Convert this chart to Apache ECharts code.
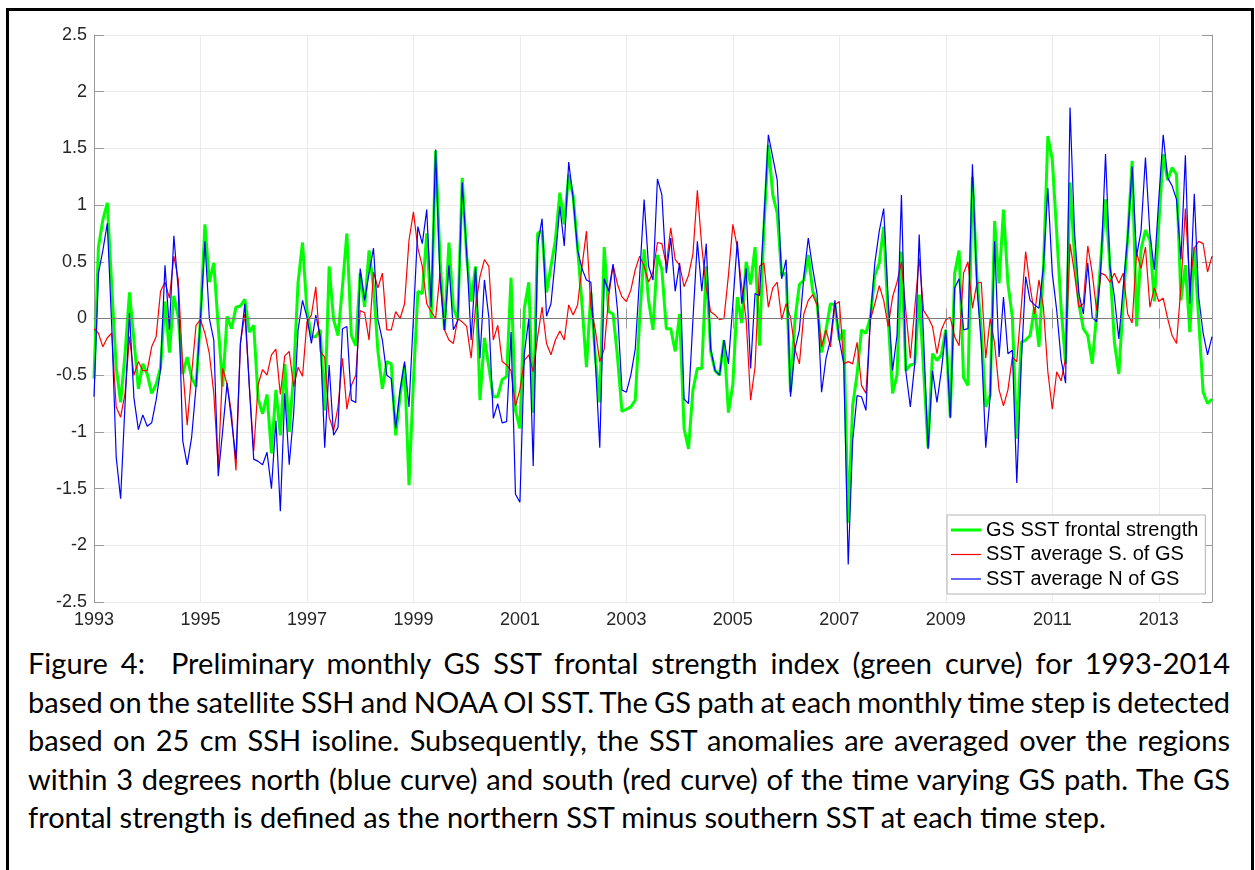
<!DOCTYPE html>
<html>
<head>
<meta charset="utf-8">
<script src="https://cdn.jsdelivr.net/npm/echarts@6/dist/echarts.min.js"></script>
<style>
html,body{margin:0;padding:0;width:1255px;height:870px;overflow:hidden;background:#fff;}
#frame{position:absolute;left:6px;top:8px;width:1242px;height:900px;border:3px solid #000;}
#chart{position:absolute;left:0;top:0;width:1255px;height:640px;}
#caption{position:absolute;left:28px;top:644px;width:1202px;font-family:Lato,"Open Sans",sans-serif;font-size:29px;line-height:38.5px;color:#000;}
#caption div{text-align:justify;text-align-last:justify;}
#caption div.tight{word-spacing:-2.5px;}
#caption div.last{text-align-last:left;}
</style>
</head>
<body>
<div id="frame"></div>
<div id="chart"></div>
<div id="caption">
<div>Figure 4:&nbsp; Preliminary monthly GS SST frontal strength index (green curve) for 1993-2014</div>
<div class="tight">based on the satellite SSH and NOAA OI SST. The GS path at each monthly time step is detected</div>
<div>based on 25 cm SSH isoline. Subsequently, the SST anomalies are averaged over the regions</div>
<div>within 3 degrees north (blue curve) and south (red curve) of the time varying GS path. The GS</div>
<div class="last">frontal strength is defined as the northern SST minus southern SST at each time step.</div>
</div>
<script>
// ---- data (monthly, Jan 1993 .. Jan 2014) ----
const startYear = 1993;
const endYear = 2014;
const yearTickLabels = ['1993','1995','1997','1999','2001','2003','2005','2007','2009','2011','2013'];
const yTickMin = -2.5, yTickMax = 2.5, yTickStep = 0.5;
const seriesNames = ['GS SST frontal strength', 'SST average S. of GS', 'SST average N of GS'];

const gsFrontal = [
-0.53,0.63,0.87,1.02,0.28,-0.43,-0.74,-0.31,0.23,-0.19,-0.62,-0.40,
-0.49,-0.66,-0.58,-0.43,0.15,-0.30,0.20,0.01,-0.49,-0.34,-0.52,-0.60,
0.00,0.83,0.32,0.49,-0.07,-0.60,0.02,-0.09,0.10,0.11,0.17,-0.12,
-0.06,-0.71,-0.84,-0.67,-1.19,-0.63,-1.03,-0.40,-1.00,-0.49,0.32,0.67,
0.07,-0.16,-0.16,-0.10,-0.81,0.46,-0.01,-0.15,0.28,0.75,-0.15,-0.24,
0.40,0.10,0.60,0.28,-0.29,-0.62,-0.38,-0.40,-1.03,-0.68,-0.41,-1.47,
-0.55,0.24,0.22,0.75,0.00,1.48,0.52,-0.10,0.67,0.09,-0.01,1.24,
0.55,0.15,0.46,-0.72,-0.17,-0.43,-0.69,-0.69,-0.54,-0.51,0.36,-0.81,
-0.97,0.09,0.32,-0.83,0.75,0.77,0.23,0.46,0.69,1.11,0.83,1.27,
1.08,0.63,0.12,-0.43,0.23,-0.34,-0.74,0.63,0.06,0.04,-0.34,-0.82,
-0.80,-0.78,-0.72,0.00,0.61,0.16,-0.10,0.56,0.43,-0.09,-0.09,-0.29,
0.04,-0.97,-1.15,-0.63,-0.44,-0.44,0.46,-0.29,-0.46,-0.50,-0.19,-0.83,
-0.58,0.19,-0.04,0.50,0.30,0.63,-0.24,0.80,1.53,1.09,0.93,0.38,
0.40,-0.65,-0.01,0.30,0.34,0.56,0.24,0.13,-0.30,-0.10,0.13,0.12,
-0.19,-0.10,-1.80,-0.77,-0.49,-0.10,-0.13,0.01,0.38,0.49,0.81,0.01,
-0.66,-0.50,0.59,-0.46,-0.41,-0.40,0.21,-0.46,-1.14,-0.31,-0.37,-0.32,
-0.10,-0.87,0.40,0.60,-0.52,-0.59,1.25,0.37,-0.10,-0.78,-0.68,0.86,
0.31,0.96,0.31,0.01,-1.06,-0.21,-0.19,-0.15,0.10,-0.25,0.43,1.61,
1.40,0.75,0.09,-0.40,1.20,0.55,0.13,-0.09,-0.15,-0.40,0.04,0.55,
1.05,0.46,-0.21,-0.49,0.16,0.71,1.39,-0.07,0.61,0.78,0.69,0.15,
0.83,1.45,1.22,1.33,1.27,0.16,0.47,-0.12,0.63,-0.01,-0.65,-0.75,
-0.71
];

const sstSouth = [
-0.09,-0.13,-0.25,-0.17,-0.13,-0.78,-0.87,-0.66,-0.16,-0.50,-0.38,-0.46,
-0.46,-0.25,-0.16,0.24,0.32,0.18,0.55,0.34,-0.43,-0.94,-0.49,-0.06,
-0.01,-0.13,-0.31,-0.66,-1.31,-0.44,-0.58,-0.84,-1.34,-0.22,0.04,-0.58,
-1.17,-0.58,-0.45,-0.50,-0.32,-0.27,-0.67,-0.33,-0.29,-0.60,-0.43,-0.51,
-0.03,0.03,0.28,-0.29,-0.34,-0.87,-0.99,-0.78,-0.35,-0.80,-0.59,-0.50,
0.07,0.05,-0.19,0.41,0.27,0.40,-0.10,-0.10,0.06,0.00,0.13,0.69,
0.94,0.62,0.46,0.13,0.06,0.00,0.40,-0.10,-0.19,-0.22,0.00,-0.03,
-0.07,-0.35,0.10,0.37,0.52,0.46,-0.19,-0.06,-0.38,-0.41,-0.46,-0.77,
-0.63,-0.37,-0.32,-0.47,-0.16,0.10,-0.22,-0.32,-0.19,-0.11,-0.19,0.12,
0.03,0.12,0.46,0.77,0.10,-0.10,-0.38,-0.27,0.19,0.47,0.30,0.19,
0.15,0.25,0.43,0.55,0.46,0.32,0.41,0.67,0.66,0.47,0.80,0.52,
0.47,0.28,0.38,0.57,1.13,0.63,0.27,0.06,0.03,-0.01,0.00,0.38,
0.83,0.63,0.28,-0.01,-0.72,-0.43,0.46,0.49,0.10,0.27,0.32,-0.01,
0.13,0.01,-0.27,-0.40,0.04,0.16,0.21,0.12,-0.25,-0.10,-0.25,0.12,
0.15,-0.40,-0.38,-0.40,-0.21,-0.59,-0.66,-0.01,0.13,0.29,0.16,-0.07,
0.19,0.32,0.50,0.06,-0.35,0.09,0.53,0.07,0.01,-0.07,-0.31,-0.10,
-0.01,0.01,-0.16,-0.24,0.40,0.50,0.09,0.31,0.32,-0.35,0.00,-0.22,
-0.63,-0.77,-0.63,-0.34,-0.38,0.10,0.59,0.28,0.04,0.34,0.10,-0.47,
-0.80,-0.47,-0.55,-0.35,0.66,0.40,0.10,0.13,0.64,0.40,0.07,0.40,
0.38,0.32,0.40,0.31,0.40,0.04,-0.04,0.58,0.44,0.63,0.10,0.27,
0.15,0.18,0.00,-0.15,-0.22,0.28,0.97,0.28,0.62,0.68,0.66,0.41,
0.55
];

const sstNorth = [
-0.69,0.40,0.60,0.84,-0.07,-1.22,-1.59,-0.75,0.05,-0.70,-0.98,-0.85,
-0.95,-0.92,-0.72,-0.45,0.47,-0.10,0.73,0.25,-1.08,-1.29,-1.05,-0.60,
0.00,0.68,0.00,-0.19,-1.39,-0.99,-0.57,-0.90,-1.24,-0.22,0.13,-0.60,
-1.24,-1.26,-1.29,-1.18,-1.50,-0.90,-1.70,-0.66,-1.29,-0.84,-0.10,0.16,
0.01,-0.22,0.03,-0.16,-1.14,-0.41,-1.03,-0.96,-0.09,-0.07,-0.72,-0.74,
0.44,0.16,0.40,0.62,-0.01,-0.19,-0.50,-0.53,-0.97,-0.63,-0.38,-0.78,
0.01,0.81,0.66,0.96,0.10,1.49,0.34,-0.10,0.47,-0.10,-0.02,1.20,
0.58,-0.19,0.45,-0.35,0.34,0.01,-0.88,-0.75,-0.92,-0.91,-0.12,-1.55,
-1.62,-0.31,0.00,-1.30,0.65,0.88,0.02,0.13,0.53,0.99,0.64,1.38,
1.06,0.60,0.44,0.34,0.32,-0.37,-1.14,0.35,0.24,0.48,0.07,-0.63,
-0.65,-0.50,-0.27,0.38,1.05,0.46,0.34,1.23,1.09,0.40,0.71,0.24,
0.49,-0.71,-0.75,-0.01,0.68,0.24,0.66,-0.27,-0.46,-0.50,-0.19,-0.40,
0.13,0.68,0.13,0.44,-0.44,0.22,0.20,0.86,1.62,1.42,1.22,0.35,
0.52,-0.69,-0.27,-0.10,0.37,0.71,0.44,0.21,-0.65,-0.35,-0.19,0.16,
-0.19,-0.40,-2.17,-1.08,-0.68,-0.69,-0.81,0.01,0.49,0.77,0.97,0.16,
-0.46,-0.15,1.09,-0.47,-0.78,-0.40,0.74,-0.19,-1.15,-0.46,-0.74,-0.46,
-0.10,-0.88,0.27,0.35,-0.10,-0.09,1.36,0.29,-0.22,-1.14,-0.68,0.68,
-0.34,0.19,-0.31,-0.28,-1.45,-0.40,0.37,0.16,0.12,0.09,0.46,1.15,
0.40,0.07,-0.37,-0.57,1.86,0.77,0.22,0.04,0.49,0.01,-0.03,0.49,
1.45,0.46,0.19,-0.18,0.28,0.72,1.34,0.55,0.77,1.42,0.75,0.43,
1.05,1.62,1.24,1.17,1.05,0.52,1.44,0.13,1.10,0.19,-0.13,-0.32,
-0.16
];

// month categories
const months = [];
for (let y = startYear; y <= endYear; y++) {
  for (let m = 1; m <= 12; m++) {
    if (y === endYear && m > 1) break;
    months.push(y + '-' + String(m).padStart(2, '0'));
  }
}
const isYearTick = (idx) => {
  const v = months[idx];
  return !!v && v.endsWith('-01') && yearTickLabels.includes(v.slice(0, 4));
};

const colors = ['#00ff00', '#ff0000', '#0000ff'];
const widths = [3, 1.2, 1.2];
const axisColor = '#9a9a9a';
const gridColor = '#ebebeb';
const labelFont = { fontFamily: 'Liberation Sans, Arial, sans-serif', fontSize: 18, color: '#262626' };

const chart = echarts.init(document.getElementById('chart'), null, { renderer: 'canvas' });
chart.setOption({
  animation: false,
  backgroundColor: 'transparent',
  grid: { left: 94, top: 35, right: 43, bottom: 38, show: false },
  xAxis: [{
    type: 'category', data: months, boundaryGap: false, position: 'bottom',
    axisLine: { show: true, lineStyle: { color: axisColor, width: 1 } },
    axisTick: { show: true, inside: true, length: 10, interval: (i) => isYearTick(i), lineStyle: { color: axisColor } },
    axisLabel: { show: true, interval: (i) => isYearTick(i), formatter: (v) => v.slice(0, 4), margin: 9, ...labelFont },
    splitLine: { show: true, interval: (i) => isYearTick(i), lineStyle: { color: gridColor, width: 1 } }
  }, {
    type: 'category', data: months, boundaryGap: false, position: 'top',
    axisLine: { show: true, lineStyle: { color: axisColor, width: 1 } },
    axisTick: { show: true, inside: true, length: 10, interval: (i) => isYearTick(i), lineStyle: { color: axisColor } },
    axisLabel: { show: false },
    splitLine: { show: false }
  }],
  yAxis: [{
    type: 'value', min: yTickMin, max: yTickMax, interval: yTickStep, position: 'left',
    axisLine: { show: true, lineStyle: { color: axisColor, width: 1 } },
    axisTick: { show: true, inside: true, length: 10, lineStyle: { color: axisColor } },
    axisLabel: { show: true, margin: 7, ...labelFont },
    splitLine: { show: true, lineStyle: { color: gridColor, width: 1 } }
  }, {
    type: 'value', min: yTickMin, max: yTickMax, interval: yTickStep, position: 'right',
    axisLine: { show: true, lineStyle: { color: axisColor, width: 1 } },
    axisTick: { show: true, inside: true, length: 10, lineStyle: { color: axisColor } },
    axisLabel: { show: false },
    splitLine: { show: false }
  }],
  legend: {
    orient: 'vertical', left: 947, top: 515,
    itemWidth: 30, itemHeight: 14, itemGap: 4.5,
    padding: [5, 7, 5, 4],
    symbolKeepAspect: true,
    backgroundColor: '#ffffff', borderColor: '#b4b4b4', borderWidth: 1,
    itemStyle: { borderWidth: 0 },
    textStyle: { fontFamily: 'Liberation Sans, Arial, sans-serif', fontSize: 20, color: '#000' },
    data: seriesNames.map((n, k) => ({
      name: n,
      icon: k === 0 ? 'path://M0,0H30V3H0Z' : 'path://M0,0H30V1.2H0Z',
      itemStyle: { color: colors[k], borderWidth: 0 }
    }))
  },
  series: [{
    name: seriesNames[0], type: 'line', data: gsFrontal, symbol: 'none', showSymbol: false,
    lineStyle: { color: colors[0], width: widths[0] }, itemStyle: { color: colors[0] }, z: 2
  }, {
    name: seriesNames[1], type: 'line', data: sstSouth, symbol: 'none', showSymbol: false,
    lineStyle: { color: colors[1], width: widths[1] }, itemStyle: { color: colors[1] }, z: 3
  }, {
    name: seriesNames[2], type: 'line', data: sstNorth, symbol: 'none', showSymbol: false,
    lineStyle: { color: colors[2], width: widths[2] }, itemStyle: { color: colors[2] }, z: 4,
    markLine: {
      silent: true, symbol: 'none', label: { show: false },
      lineStyle: { color: '#7a7a7a', width: 1, type: 'solid' },
      data: [{ yAxis: 0 }]
    }
  }]
});
</script>
</body>
</html>
